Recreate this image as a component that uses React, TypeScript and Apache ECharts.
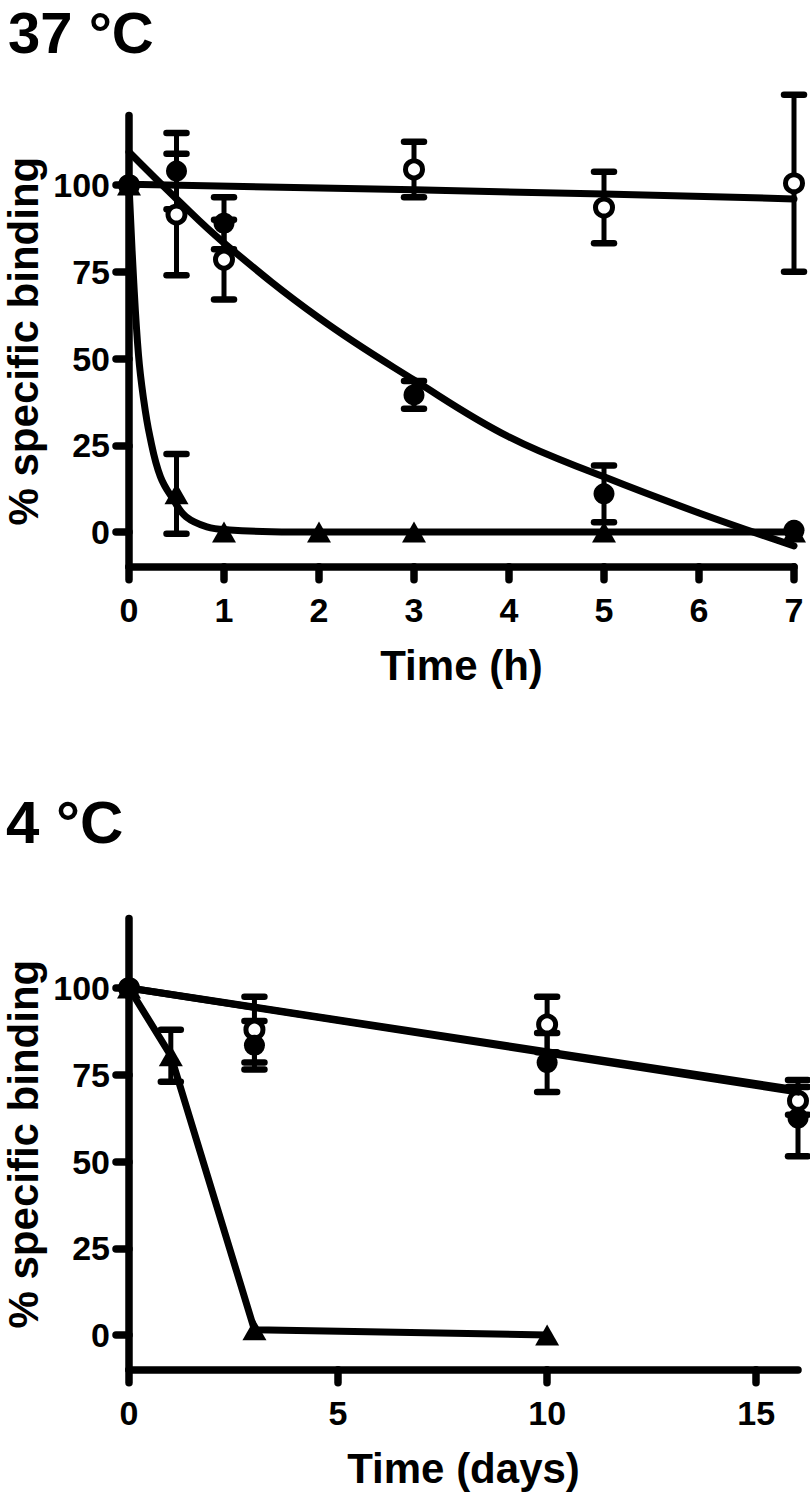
import React, { useEffect, useRef } from "react";
import * as echarts from "echarts";

const FONT = '"Liberation Sans", Arial, Helvetica, sans-serif';

// ---------- 37 °C panel (time in hours) ----------
const hours37 = [0, 0.5, 1, 3, 5, 7];
const open37 = [100, 91.5, 78.5, 104.5, 93.5, 100.5];
const open37Err = [0, 17.5, 11.5, 8, 10.3, 25.5];
const filled37 = [100, 104, 89, 39.5, 11, 0.5];
const filled37Err = [0, 11, 7.5, 4, 8.2, 0];
const triHours37 = [0, 0.5, 1, 2, 3, 5, 7];
const tri37 = [100, 11, 0, 0, 0, 0, 0];
const tri37Err = [0, 11.5, 0, 0, 0, 0, 0];

// fitted curves
const fitOpen37T = [0, 3, 5, 7];
const fitOpen37V = [100.2, 98.6, 97.4, 96];
const fitFilled37T = [0, 0.5, 1, 2, 3, 4, 5, 6, 7];
const fitFilled37V = [109.5, 96, 83.3, 61.7, 43.8, 27.4, 15.9, 5.5, -4];
const fitTri37T = [0, 0.05, 0.1, 0.15, 0.22, 0.33, 0.47, 0.6, 0.82, 1.06, 1.5, 2, 7];
const fitTri37V = [100, 72, 51, 39, 27.5, 16, 9.2, 4.4, 1.5, 0.6, 0.1, 0, 0];

const xTicks37 = [0, 1, 2, 3, 4, 5, 6, 7];

// ---------- 4 °C panel (time in days) ----------
const days4 = [0, 3, 10, 16];
const open4 = [100, 88, 89.5, 67.5];
const open4Err = [0, 9.5, 8, 4];
const filled4 = [100, 83.5, 78.5, 62.5];
const filled4Err = [0, 7, 8.5, 11];
const triDays4 = [0, 1, 3, 10];
const tri4 = [100, 80.5, 1.5, 0];
const tri4Err = [0, 7.5, 0, 0];

const fitDays4 = [0, 16];
const fitOpen4 = [100, 70];
const fitFilled4 = [100, 70.6];

const xTicks4 = [0, 5, 10, 15];
const yTicks = [0, 25, 50, 75, 100];

const pairs = (xs: number[], ys: number[]) => xs.map((x, i) => [x, ys[i]]);
const errRows = (xs: number[], ys: number[], es: number[]) =>
  xs.map((x, i) => [x, ys[i], es[i]]).filter((r) => r[2] > 0);

function renderErr(params: any, api: any) {
  const x = api.value(0);
  const y = api.value(1);
  const e = api.value(2);
  const t = api.coord([x, y + e]);
  const b = api.coord([x, y - e]);
  const w = 10;
  const st = { stroke: "#000", lineWidth: 5, lineCap: "round" };
  const cap = { stroke: "#000", lineWidth: 6.5, lineCap: "round" };
  return {
    type: "group",
    children: [
      { type: "line", shape: { x1: t[0], y1: t[1], x2: b[0], y2: b[1] }, style: st },
      { type: "line", shape: { x1: t[0] - w, y1: t[1], x2: t[0] + w, y2: t[1] }, style: cap },
      { type: "line", shape: { x1: b[0] - w, y1: b[1], x2: b[0] + w, y2: b[1] }, style: cap },
    ],
  };
}

const textStyle = (size: number) => ({
  fontSize: size,
  fontWeight: "bold",
  fontFamily: FONT,
  color: "#000",
});

const AXW = 7.5;

const makeX = (gridIndex: number, max: number, ticks: number[], name: string) => ({
  type: "value",
  gridIndex,
  min: 0,
  max,
  name,
  nameLocation: "middle",
  nameGap: 78,
  nameMoveOverlap: false,
  nameTextStyle: textStyle(42),
  axisLine: { show: true, onZero: false, lineStyle: { color: "#000", width: AXW, cap: "round" } },
  axisTick: { show: true, length: 13, customValues: ticks, lineStyle: { color: "#000", width: AXW, cap: "round" } },
  axisLabel: { customValues: ticks, margin: 26, ...textStyle(34) },
  splitLine: { show: false },
});

const makeY = (gridIndex: number) => ({
  type: "value",
  gridIndex,
  min: -10,
  max: 120,
  name: "% specific binding",
  nameLocation: "middle",
  nameGap: 85,
  nameMoveOverlap: false,
  nameTextStyle: textStyle(42),
  axisLine: { show: true, onZero: false, lineStyle: { color: "#000", width: AXW, cap: "round" } },
  axisTick: { show: true, length: 13, customValues: yTicks, lineStyle: { color: "#000", width: AXW, cap: "round" } },
  axisLabel: { customValues: yTicks, margin: 19, ...textStyle(34) },
  splitLine: { show: false },
});

const fitLine = (idx: number, data: number[][], smooth: number | false) => ({
  type: "line",
  xAxisIndex: idx,
  yAxisIndex: idx,
  data,
  showSymbol: false,
  symbol: "none",
  smooth,
  clip: false,
  lineStyle: { color: "#000", width: 7, cap: "round", join: "round" },
  silent: true,
});

const errSeries = (idx: number, rows: number[][]) => ({
  type: "custom",
  xAxisIndex: idx,
  yAxisIndex: idx,
  data: rows,
  encode: { x: 0, y: 1 },
  renderItem: renderErr,
  clip: false,
  silent: true,
});

const openPts = (idx: number, data: number[][]) => ({
  type: "scatter",
  xAxisIndex: idx,
  yAxisIndex: idx,
  data,
  symbol: "circle",
  symbolSize: 17,
  itemStyle: { color: "#fff", borderColor: "#000", borderWidth: 5, opacity: 1 },
  clip: false,
});

const filledPts = (idx: number, data: number[][]) => ({
  type: "scatter",
  xAxisIndex: idx,
  yAxisIndex: idx,
  data,
  symbol: "circle",
  symbolSize: 21,
  itemStyle: { color: "#000", opacity: 1 },
  clip: false,
});

const triPts = (idx: number, data: number[][]) => ({
  type: "scatter",
  xAxisIndex: idx,
  yAxisIndex: idx,
  data,
  symbol: "triangle",
  symbolSize: [24, 21],
  itemStyle: { color: "#000", opacity: 1 },
  clip: false,
});

export default function App() {
  const ref = useRef<HTMLDivElement>(null);

  useEffect(() => {
    if (!ref.current) return;
    const chart = echarts.init(ref.current, null, { renderer: "svg" });
    const option: any = {
      animation: false,
      backgroundColor: "#fff",
      textStyle: { fontFamily: FONT },
      grid: [
        { left: 129, top: 115.6, width: 665, height: 451.1, outerBoundsMode: "none" },
        { left: 129, top: 918.6, width: 669, height: 451.1, outerBoundsMode: "none" },
      ],
      xAxis: [makeX(0, 7, xTicks37, "Time (h)"), makeX(1, 16, xTicks4, "Time (days)")],
      yAxis: [makeY(0), makeY(1)],
      graphic: [
        {
          type: "text",
          x: 8,
          y: 32,
          style: {
            text: "37 °C",
            fontSize: 58,
            fontWeight: "bold",
            fontFamily: FONT,
            fill: "#000",
            verticalAlign: "middle",
          },
        },
        {
          type: "text",
          x: 6,
          y: 822,
          style: {
            text: "4 °C",
            fontSize: 60,
            fontWeight: "bold",
            fontFamily: FONT,
            fill: "#000",
            verticalAlign: "middle",
          },
        },
      ],
      series: [
        // 37 °C
        fitLine(0, pairs(fitOpen37T, fitOpen37V), false),
        fitLine(0, pairs(fitFilled37T, fitFilled37V), 0.4),
        fitLine(0, pairs(fitTri37T, fitTri37V), 0.4),
        errSeries(0, errRows(hours37, open37, open37Err)),
        errSeries(0, errRows(hours37, filled37, filled37Err)),
        errSeries(0, errRows(triHours37, tri37, tri37Err)),
        openPts(0, pairs(hours37, open37)),
        filledPts(0, pairs(hours37, filled37)),
        triPts(0, pairs(triHours37, tri37)),
        // 4 °C
        fitLine(1, pairs(fitDays4, fitOpen4), false),
        fitLine(1, pairs(fitDays4, fitFilled4), false),
        fitLine(1, pairs(triDays4, tri4), false),
        errSeries(1, errRows(days4, open4, open4Err)),
        errSeries(1, errRows(days4, filled4, filled4Err)),
        errSeries(1, errRows(triDays4, tri4, tri4Err)),
        openPts(1, pairs(days4, open4)),
        filledPts(1, pairs(days4, filled4)),
        triPts(1, pairs(triDays4, tri4)),
      ],
    };
    chart.setOption(option);
    return () => chart.dispose();
  }, []);

  return (
    <div
      ref={ref}
      style={{ position: "absolute", left: 0, top: 0, width: 810, height: 1494, background: "#fff" }}
    />
  );
}
